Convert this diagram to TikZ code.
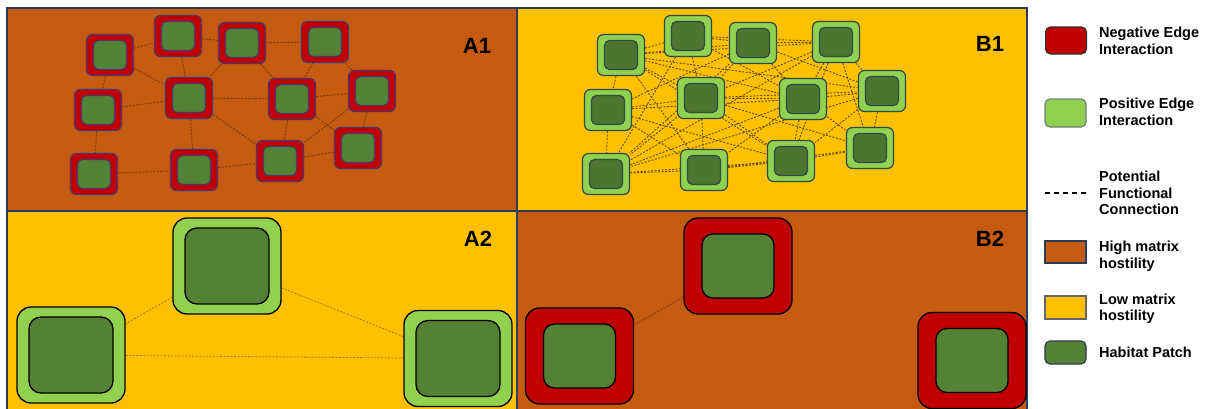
\documentclass[tikz,border=0pt]{standalone}
\usepackage{fontspec}
\setmainfont{Liberation Sans}
\pgfdeclarelayer{panels}
\pgfdeclarelayer{edges}
\pgfsetlayers{panels,edges,main}
\definecolor{hostile}{HTML}{C55A11}
\definecolor{mild}{HTML}{FFC000}
\definecolor{negred}{HTML}{C00000}
\definecolor{posgreen}{HTML}{92D050}
\definecolor{habgreen}{HTML}{548235}
\definecolor{framec}{HTML}{2F3B52}
\definecolor{outA}{HTML}{46396B}
\definecolor{outB}{HTML}{2E4A45}
\definecolor{lnkA}{HTML}{7A3A12}
\definecolor{lnkB}{HTML}{5E4E14}
\definecolor{lnkC}{HTML}{A47A18}
\tikzset{
 x=1pt,y=-1pt,
 panel/.style={draw=framec, line width=1.5pt},
 ringsm/.style={rectangle, inner sep=0, rounded corners=6pt, minimum width=47pt, minimum height=41pt, line width=1.2pt},
 coresm/.style={rectangle, inner sep=0, rounded corners=5pt, minimum width=33pt, minimum height=29pt, fill=habgreen, line width=1.2pt},
 negA/.style={ringsm, fill=negred, draw=outA},
 coreA/.style={coresm, draw=outA},
 posB/.style={ringsm, fill=posgreen, draw=outB},
 coreB/.style={coresm, draw=outB, fill=habgreen!90!black},
 ringbig/.style={rectangle, inner sep=0, rounded corners=14pt, minimum width=108pt, minimum height=96pt, draw=black, line width=1.3pt},
 posbig/.style={ringbig, fill=posgreen},
 negbig/.style={ringbig, fill=negred},
 corebigA/.style={rectangle, inner sep=0, rounded corners=12pt, minimum width=84pt, minimum height=76pt, fill=habgreen, draw=black, line width=1.3pt},
 corebigB/.style={rectangle, inner sep=0, rounded corners=11pt, minimum width=72pt, minimum height=64pt, fill=habgreen, draw=black, line width=1.3pt},
 link/.style={dash pattern=on 2pt off 1.5pt, line width=0.9pt},
 tag/.style={font=\bfseries\fontsize{22}{24}\selectfont, inner sep=0},
 legtext/.style={anchor=west, align=left, inner sep=0, font=\bfseries\fontsize{14.5}{16.5}\selectfont},
 swatch/.style={rectangle, inner sep=0, minimum width=41pt, line width=1.2pt},
}
\newcommand\mkpatch[4]{\node[#1] (#3) at (#4) {};\node[#2] (#3c) at (#4) {};}
\begin{document}
\begin{tikzpicture}
\useasboundingbox (0,0) rectangle (1211,408);
\begin{pgfonlayer}{panels}
\fill[white] (0,0) rectangle (1211,408);
\node[panel, fill=hostile, rectangle, inner sep=0, minimum width=510pt, minimum height=203pt] (pA1) at (262,109.5) {};
\node[panel, fill=mild, rectangle, inner sep=0, minimum width=510pt, minimum height=203pt] (pB1) at (772,109.5) {};
\node[panel, fill=mild, rectangle, inner sep=0, minimum width=510pt, minimum height=200pt] (pA2) at (262,311) {};
\node[panel, fill=hostile, rectangle, inner sep=0, minimum width=510pt, minimum height=200pt] (pB2) at (772,311) {};
\end{pgfonlayer}
% A1
\mkpatch{negA}{coreA}{a1}{110,55}
\mkpatch{negA}{coreA}{a2}{178,36}
\mkpatch{negA}{coreA}{a3}{242,43}
\mkpatch{negA}{coreA}{a4}{325,42}
\mkpatch{negA}{coreA}{a5}{98,110}
\mkpatch{negA}{coreA}{a6}{189,98}
\mkpatch{negA}{coreA}{a7}{292,99}
\mkpatch{negA}{coreA}{a8}{372,91}
\mkpatch{negA}{coreA}{a9}{94,174}
\mkpatch{negA}{coreA}{a10}{194,170}
\mkpatch{negA}{coreA}{a11}{280,161}
\mkpatch{negA}{coreA}{a12}{358,148}
% B1
\mkpatch{posB}{coreB}{b1}{621,55}
\mkpatch{posB}{coreB}{b2}{688,36}
\mkpatch{posB}{coreB}{b3}{753,43}
\mkpatch{posB}{coreB}{b4}{836,42}
\mkpatch{posB}{coreB}{b5}{608,110}
\mkpatch{posB}{coreB}{b6}{701,98}
\mkpatch{posB}{coreB}{b7}{803,99}
\mkpatch{posB}{coreB}{b8}{882,91}
\mkpatch{posB}{coreB}{b9}{606,174}
\mkpatch{posB}{coreB}{b10}{704,170}
\mkpatch{posB}{coreB}{b11}{791,161}
\mkpatch{posB}{coreB}{b12}{870,148}
% A2
\mkpatch{posbig}{corebigA}{c1}{227,266}
\mkpatch{posbig}{corebigA}{c2}{71,355}
\mkpatch{posbig}{corebigA}{c3}{458,358.5}
% B2
\mkpatch{negbig}{corebigB}{d1}{738,266}
\mkpatch{negbig}{corebigB}{d2}{579.5,356}
\mkpatch{negbig}{corebigB}{d3}{972,360.5}
% labels
\node[tag] (tA1) at (477,46) {A1};
\node[tag] (tB1) at (990,44) {B1};
\node[tag] (tA2) at (478,239) {A2};
\node[tag] (tB2) at (990,239) {B2};
\begin{pgfonlayer}{edges}
\foreach \u/\v in {a1/a2,a2/a3,a3/a4,a1/a6,a2/a6,a3/a6,a3/a7,a4/a7,a4/a8,a1/a5,a5/a6,a6/a7,a7/a8,a5/a9,a6/a10,a6/a11,a7/a11,a7/a12,a8/a11,a8/a12,a9/a10,a10/a11,a11/a12}
  \draw[link, lnkA] (\u) -- (\v);
\foreach \u/\v in {b1/b2,b1/b3,b1/b4,b1/b5,b1/b6,b1/b7,b1/b8,b1/b10,b1/b11,
 b2/b3,b2/b4,b2/b6,b2/b7,b2/b9,
 b3/b4,b3/b6,b3/b7,b3/b8,b3/b9,b3/b5,
 b4/b6,b4/b7,b4/b8,b4/b11,b4/b12,b4/b9,
 b5/b6,b5/b7,b5/b9,b5/b10,b5/b11,
 b6/b7,b6/b8,b6/b9,b6/b10,b6/b11,b6/b12,
 b7/b8,b7/b9,b7/b11,b7/b12,b7/b10,
 b8/b9,b8/b11,b8/b12,
 b9/b10,b9/b11,b10/b11,b10/b12,b11/b12}
  \draw[link, lnkB] (\u) -- (\v);
\foreach \u/\v in {c1/c2,c1/c3,c2/c3}
  \draw[link, lnkC, line width=0.8pt] (\u) -- (\v);
\draw[link, lnkA, line width=0.8pt] (d1) -- (d2);
\end{pgfonlayer}
% legend
\node[swatch, rounded corners=5pt, fill=negred, draw=black!80, minimum height=27pt] (lneg) at (1066,40.5) {};
\node[legtext] (tneg) at (1099,41) {Negative Edge\\Interaction};
\node[swatch, rounded corners=5pt, fill=posgreen, draw=outB!70, minimum height=28pt] (lpos) at (1065.5,113) {};
\node[legtext] (tpos) at (1099,112) {Positive Edge\\Interaction};
\coordinate (ld1) at (1045,193);
\coordinate (ld2) at (1086,193);
\draw[black, line width=1.2pt, dash pattern=on 5pt off 4pt] (ld1) -- (ld2);
\node[legtext] (tpot) at (1099,193) {Potential\\Functional\\Connection};
\node[swatch, fill=hostile, draw=framec, minimum height=22pt] (lhigh) at (1065.5,252) {};
\node[legtext] (thigh) at (1099,256) {High matrix\\hostility};
\node[swatch, fill=mild, draw=black!60, minimum height=23pt] (llow) at (1065.5,307.5) {};
\node[legtext] (tlow) at (1099,308.5) {Low matrix\\hostility};
\node[swatch, rounded corners=5pt, fill=habgreen, draw=framec, minimum height=23pt] (lhab) at (1065.5,352.5) {};
\node[legtext] (thab) at (1099,352) {Habitat Patch};
\end{tikzpicture}
\end{document}
